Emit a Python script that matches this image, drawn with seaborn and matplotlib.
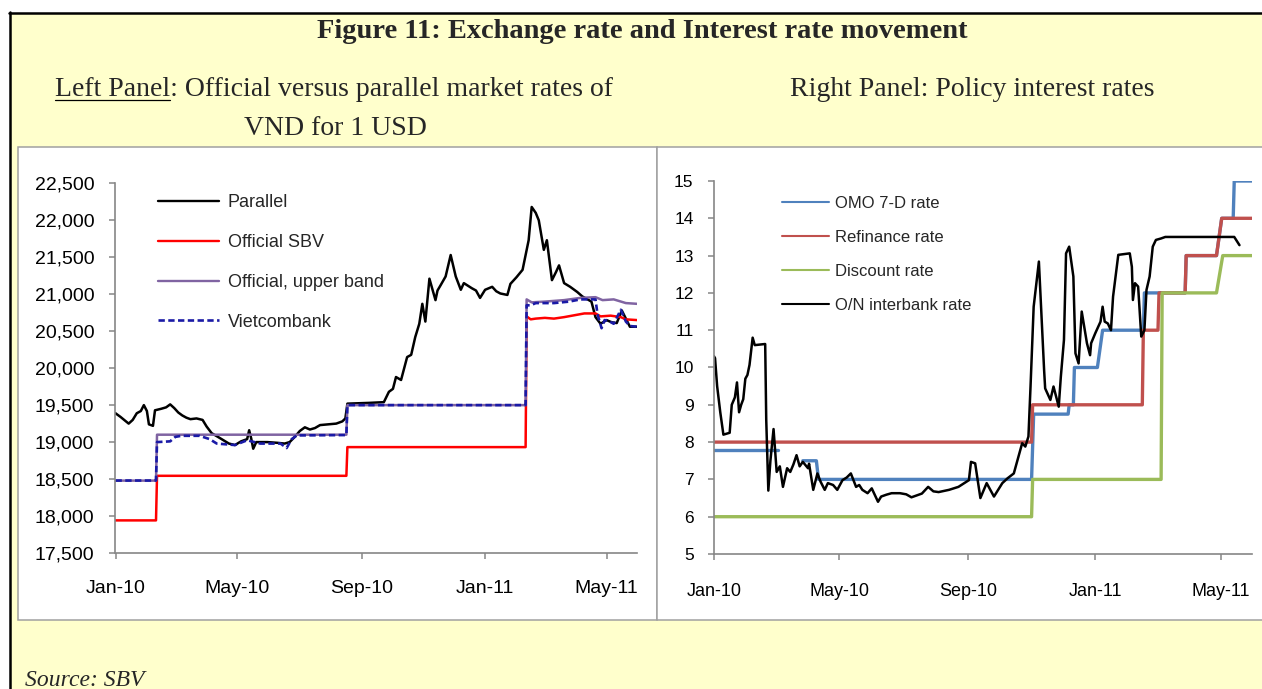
import matplotlib
matplotlib.use("Agg")
import matplotlib.pyplot as plt
import matplotlib.dates as mdates
import matplotlib.ticker as mtick
from matplotlib.lines import Line2D
from matplotlib.patches import Rectangle
import numpy as np
import pandas as pd
import seaborn as sns

sns.set_theme(style="white")
plt.rcParams["font.family"] = ["Liberation Sans", "DejaVu Sans"]

# ---- left panel: VND per USD ----
PARALLEL_DATES = [
    "2010-01-01", "2010-01-06", "2010-01-14", "2010-01-18", "2010-01-22", "2010-01-26", "2010-01-29",
    "2010-02-01", "2010-02-03", "2010-02-07", "2010-02-09", "2010-02-15", "2010-02-20", "2010-02-24",
    "2010-02-28", "2010-03-04", "2010-03-08", "2010-03-12", "2010-03-16", "2010-03-22", "2010-03-28",
    "2010-04-01", "2010-04-06", "2010-04-11", "2010-04-17", "2010-04-23", "2010-04-29", "2010-05-05",
    "2010-05-11", "2010-05-13", "2010-05-15", "2010-05-17", "2010-05-20", "2010-05-31", "2010-06-10",
    "2010-06-17", "2010-06-22", "2010-06-27", "2010-07-02", "2010-07-07", "2010-07-12", "2010-07-17",
    "2010-07-22", "2010-07-30", "2010-08-07", "2010-08-13", "2010-08-16", "2010-08-18", "2010-09-08",
    "2010-09-23", "2010-09-28", "2010-10-02", "2010-10-05", "2010-10-10", "2010-10-16", "2010-10-20",
    "2010-10-24", "2010-10-28", "2010-10-31", "2010-11-03", "2010-11-07", "2010-11-13", "2010-11-15",
    "2010-11-18", "2010-11-23", "2010-11-28", "2010-12-03", "2010-12-08", "2010-12-11", "2010-12-19",
    "2010-12-23", "2010-12-27", "2011-01-01", "2011-01-08", "2011-01-12", "2011-01-16", "2011-01-23",
    "2011-01-26", "2011-02-01", "2011-02-07", "2011-02-13", "2011-02-16", "2011-02-20", "2011-02-23",
    "2011-02-28", "2011-03-03", "2011-03-08", "2011-03-12", "2011-03-15", "2011-03-20", "2011-03-26",
    "2011-04-02", "2011-04-07", "2011-04-16", "2011-04-20", "2011-04-25", "2011-05-01", "2011-05-06",
    "2011-05-11", "2011-05-16", "2011-05-24", "2011-05-31",
]
PARALLEL = [
    19390, 19340, 19250, 19300, 19390, 19420, 19500,
    19420, 19240, 19220, 19430, 19450, 19470, 19510,
    19460, 19400, 19360, 19330, 19310, 19320, 19300,
    19210, 19120, 19080, 19030, 18980, 18960, 19010,
    19040, 19160, 19050, 18910, 19000, 19000, 18990,
    18980, 19000, 19070, 19150, 19200, 19170, 19190,
    19230, 19240, 19250, 19280, 19320, 19520, 19530,
    19540, 19680, 19720, 19880, 19840, 20150, 20180,
    20420, 20600, 20870, 20630, 21210, 20920, 21050,
    21120, 21240, 21530, 21240, 21060, 21150, 21080,
    21050, 20950, 21060, 21100, 21040, 21010, 20990,
    21140, 21230, 21330, 21730, 22180, 22100, 22000,
    21600, 21730, 21190, 21300, 21390, 21150, 21100,
    21030, 20970, 20900, 20690, 20600, 20650, 20620,
    20610, 20780, 20560, 20560,
]

SBV_DATES = [
    "2010-01-01", "2010-02-10", "2010-02-11", "2010-08-17", "2010-08-18", "2011-02-10", "2011-02-11",
    "2011-02-15", "2011-02-20", "2011-03-01", "2011-03-10", "2011-03-20", "2011-04-01", "2011-04-09",
    "2011-04-20", "2011-04-25", "2011-05-05", "2011-05-15", "2011-05-20", "2011-05-31",
]
SBV = [
    17941, 17941, 18544, 18544, 18932, 18932, 20700,
    20660, 20670, 20680, 20670, 20690, 20720, 20740,
    20740, 20700, 20710, 20690, 20660, 20650,
]

BAND_DATES = [
    "2010-01-01", "2010-02-10", "2010-02-11", "2010-08-17", "2010-08-18", "2011-02-10", "2011-02-11",
    "2011-02-16", "2011-03-01", "2011-03-20", "2011-04-05", "2011-04-20", "2011-04-27", "2011-05-08",
    "2011-05-20", "2011-05-31",
]
BAND = [
    18479, 18479, 19100, 19100, 19500, 19500, 20930,
    20890, 20900, 20920, 20950, 20960, 20920, 20930,
    20880, 20870,
]

VCB_DATES = [
    "2010-01-01", "2010-02-10", "2010-02-11", "2010-02-24", "2010-03-01", "2010-03-07", "2010-03-25",
    "2010-04-04", "2010-04-11", "2010-04-29", "2010-05-11", "2010-05-24", "2010-06-13", "2010-06-19",
    "2010-06-24", "2010-06-29", "2010-08-17", "2010-08-18", "2011-02-10", "2011-02-11", "2011-02-15",
    "2011-02-20", "2011-03-10", "2011-03-25", "2011-04-05", "2011-04-20", "2011-04-22", "2011-04-26",
    "2011-04-29", "2011-05-03", "2011-05-08", "2011-05-15", "2011-05-20", "2011-05-24", "2011-05-31",
]
VCB = [
    18480, 18480, 19000, 19010, 19070, 19085, 19085,
    19040, 18980, 18960, 19025, 18980, 18980, 18920,
    19040, 19090, 19095, 19500, 19500, 20850, 20850,
    20880, 20880, 20900, 20930, 20930, 20730, 20540,
    20650, 20640, 20600, 20790, 20630, 20570, 20560,
]

# ---- right panel: policy interest rates (%) ----
OMO_DATES = [
    "2010-01-01", "2010-03-03", None,
    "2010-03-27", "2010-04-09", "2010-04-11", "2010-11-01", "2010-11-03", "2010-12-06", "2010-12-07",
    "2010-12-11", "2010-12-12", "2011-01-03", "2011-01-08", "2011-02-16", "2011-02-17", "2011-03-28",
    "2011-03-29", "2011-04-27", "2011-05-02", "2011-05-13", "2011-05-14", "2011-05-31",
]
OMO = [
    7.8, 7.8, None,
    7.5, 7.5, 7.0, 7.0, 8.75, 8.75, 9.0,
    9.0, 10.0, 10.0, 11.0, 11.0, 12.0, 12.0,
    13.0, 13.0, 14.0, 14.0, 15.0, 15.0,
]

REFI_DATES = [
    "2010-01-01", "2010-11-01", "2010-11-02", "2011-02-15", "2011-02-16", "2011-03-02", "2011-03-03",
    "2011-03-28", "2011-03-29", "2011-04-27", "2011-05-02", "2011-05-31",
]
REFI = [8, 8, 9, 9, 11, 11, 12, 12, 13, 13, 14, 14]

DISC_DATES = [
    "2010-01-01", "2010-11-01", "2010-11-02", "2011-03-05", "2011-03-06", "2011-04-27", "2011-05-03",
    "2011-05-31",
]
DISC = [6, 6, 7, 7, 12, 12, 13, 13]

ON_DATES = [
    "2010-01-01", "2010-01-02", "2010-01-04", "2010-01-07", "2010-01-10", "2010-01-16", "2010-01-18",
    "2010-01-21", "2010-01-23", "2010-01-25", "2010-01-27", "2010-01-29", "2010-01-31", "2010-02-02",
    "2010-02-04", "2010-02-07", "2010-02-09", "2010-02-19", "2010-02-20", "2010-02-22", "2010-02-24",
    "2010-02-27", "2010-03-02", "2010-03-05", "2010-03-08", "2010-03-12", "2010-03-15", "2010-03-18",
    "2010-03-21", "2010-03-24", "2010-03-27", "2010-04-01", "2010-04-02", "2010-04-06", "2010-04-10",
    "2010-04-13", "2010-04-17", "2010-04-20", "2010-04-25", "2010-04-29", "2010-05-04", "2010-05-08",
    "2010-05-12", "2010-05-17", "2010-05-20", "2010-05-23", "2010-05-28", "2010-06-01", "2010-06-07",
    "2010-06-10", "2010-06-15", "2010-06-20", "2010-06-28", "2010-07-04", "2010-07-09", "2010-07-15",
    "2010-07-19", "2010-07-25", "2010-07-30", "2010-08-04", "2010-08-14", "2010-08-23", "2010-09-02",
    "2010-09-04", "2010-09-08", "2010-09-13", "2010-09-19", "2010-09-26", "2010-10-04", "2010-10-09",
    "2010-10-15", "2010-10-23", "2010-10-26", "2010-10-29", "2010-10-31", "2010-11-03", "2010-11-08",
    "2010-11-13", "2010-11-14", "2010-11-19", "2010-11-22", "2010-11-27", "2010-11-29", "2010-12-02",
    "2010-12-04", "2010-12-07", "2010-12-11", "2010-12-13", "2010-12-16", "2010-12-19", "2010-12-24",
    "2010-12-27", "2010-12-28", "2011-01-01", "2011-01-06", "2011-01-08", "2011-01-10", "2011-01-13",
    "2011-01-16", "2011-01-18", "2011-01-23", "2011-02-03", "2011-02-05", "2011-02-06", "2011-02-08",
    "2011-02-11", "2011-02-14", "2011-02-17", "2011-02-19", "2011-02-22", "2011-02-25", "2011-02-28",
    "2011-03-05", "2011-03-09", "2011-05-14", "2011-05-19",
]
ON_RATE = [
    10.3, 10.25, 9.5, 8.8, 8.2, 8.25, 9.0,
    9.2, 9.6, 8.8, 9.0, 9.15, 9.7, 9.8,
    10.07, 10.8, 10.6, 10.63, 8.6, 6.7, 7.5,
    8.35, 7.2, 7.35, 6.8, 7.3, 7.2, 7.4,
    7.65, 7.35, 7.47, 7.3, 7.42, 6.72, 7.16,
    6.94, 6.72, 6.9, 6.85, 6.72, 6.98, 7.05,
    7.16, 6.8, 6.85, 6.72, 6.63, 6.76, 6.4,
    6.54, 6.59, 6.63, 6.63, 6.6, 6.52, 6.58,
    6.62, 6.8, 6.68, 6.66, 6.72, 6.8, 6.98,
    7.47, 7.43, 6.5, 6.9, 6.54, 6.9, 7.03,
    7.16, 7.97, 7.88, 8.15, 9.49, 11.63, 12.84,
    9.93, 9.44, 9.13, 9.49, 8.95, 9.75, 10.74,
    13.06, 13.24, 12.44, 10.38, 10.11, 11.5, 10.65,
    10.33, 10.65, 10.92, 11.23, 11.63, 11.23, 11.18,
    11.0, 11.9, 13.02, 13.06, 12.7, 11.81, 12.26,
    12.17, 10.83, 11.0, 12.08, 12.44, 13.24, 13.42,
    13.46, 13.5, 13.5, 13.28,
]

LEFT_LABELS = ["Parallel", "Official SBV", "Official, upper band", "Vietcombank"]
RIGHT_LABELS = ["OMO 7-D rate", "Refinance rate", "Discount rate", "O/N interbank rate"]
YEAR_TICKS_LEFT = list(range(17500, 22501, 500))
YEAR_TICKS_RIGHT = list(range(5, 16))

W, H = 1262, 689
AXIS_GREY = "#868686"
SERIF = ["Liberation Serif", "DejaVu Serif"]


def fx(x):
    return x / W


def fy(y):
    return 1 - y / H


def draw_series(ax, dates, values, **kws):
    # split on None so gaps stay gaps
    seg_d, seg_v = [], []
    for d, v in list(zip(dates, values)) + [(None, None)]:
        if d is None:
            if seg_d:
                sns.lineplot(x=pd.to_datetime(seg_d), y=seg_v, ax=ax, estimator=None, sort=False,
                             legend=False, **kws)
            seg_d, seg_v = [], []
        else:
            seg_d.append(d)
            seg_v.append(v)


def style_axis(ax, ylab, xlab, ypad, xpad):
    ax.set_facecolor("none")
    for s in ["top", "right"]:
        ax.spines[s].set_visible(False)
    for s in ["left", "bottom"]:
        ax.spines[s].set_color(AXIS_GREY)
        ax.spines[s].set_linewidth(1.2)
    ax.set_xlim(pd.Timestamp("2010-01-01"), pd.Timestamp("2011-05-31"))
    ax.xaxis.set_major_locator(mdates.MonthLocator(bymonth=[1, 5, 9]))
    ax.xaxis.set_major_formatter(mdates.DateFormatter("%b-%y"))
    ax.tick_params(axis="both", direction="out", color=AXIS_GREY, width=1.1, length=4.2,
                   bottom=True, left=True, labelcolor="black")
    ax.tick_params(axis="y", labelsize=ylab, pad=ypad)
    ax.tick_params(axis="x", labelsize=xlab, pad=xpad)
    ax.set_xlabel("")
    ax.set_ylabel("")
    ax.grid(False)


fig = plt.figure(figsize=(W / 100, H / 100), dpi=100)
fig.patch.set_facecolor("white")

# page background, border and white panel boxes
fig.add_artist(Rectangle((fx(10), 0), 1, fy(13), transform=fig.transFigure,
                         facecolor="#FFFFCC", edgecolor="none", zorder=-10))
fig.add_artist(Line2D([fx(10), fx(10)], [0, fy(12)], transform=fig.transFigure,
                      color="black", lw=1.8, zorder=-5))
fig.add_artist(Line2D([fx(9), 1], [fy(13), fy(13)], transform=fig.transFigure,
                      color="black", lw=1.8, zorder=-5))
fig.add_artist(Rectangle((fx(18), fy(620)), fx(657) - fx(18), fy(147) - fy(620), transform=fig.transFigure,
                         facecolor="white", edgecolor="#A0A0A0", lw=1.1, zorder=-4))
fig.add_artist(Rectangle((fx(657), fy(620)), fx(1275) - fx(657), fy(147) - fy(620), transform=fig.transFigure,
                         facecolor="white", edgecolor="#A0A0A0", lw=1.1, zorder=-4))

# ---- left axes ----
axL = fig.add_axes([fx(115.5), fy(553), fx(637) - fx(115.5), fy(183.3) - fy(553)])
draw_series(axL, PARALLEL_DATES, PARALLEL, color="black", linewidth=1.8)
draw_series(axL, SBV_DATES, SBV, color="#FF0000", linewidth=1.8)
draw_series(axL, BAND_DATES, BAND, color="#8064A2", linewidth=1.8)
draw_series(axL, VCB_DATES, VCB, color="#1A1AA6", linewidth=1.9, linestyle=(0, (2.4, 1.3)))
axL.set_ylim(17500, 22500)
axL.set_yticks(YEAR_TICKS_LEFT)
axL.yaxis.set_major_formatter(mtick.StrMethodFormatter("{x:,.0f}"))
style_axis(axL, 14, 14, 11, 15)

left_handles = [
    Line2D([], [], color="black", lw=1.7),
    Line2D([], [], color="#FF0000", lw=1.7),
    Line2D([], [], color="#8064A2", lw=1.7),
    Line2D([], [], color="#1A1AA6", lw=1.9, linestyle=(0, (2.4, 1.3))),
]
axL.legend(left_handles, LEFT_LABELS, loc="upper left", bbox_to_anchor=(fx(158), fy(194)),
           bbox_transform=fig.transFigure, frameon=False, fontsize=13, borderpad=0, borderaxespad=0,
           handlelength=3.4, handletextpad=0.45, labelspacing=1.27)

# ---- right axes ----
axR = fig.add_axes([fx(714), fy(554), fx(1252) - fx(714), fy(181) - fy(554)])
draw_series(axR, OMO_DATES, OMO, color="#4F81BD", linewidth=2.4)
draw_series(axR, REFI_DATES, REFI, color="#C0504D", linewidth=2.4)
draw_series(axR, DISC_DATES, DISC, color="#9BBB59", linewidth=2.4)
draw_series(axR, ON_DATES, ON_RATE, color="black", linewidth=1.8)
axR.set_ylim(5, 15)
axR.set_yticks(YEAR_TICKS_RIGHT)
style_axis(axR, 12.5, 13, 10.5, 17)

right_handles = [
    Line2D([], [], color="#4F81BD", lw=1.5),
    Line2D([], [], color="#C0504D", lw=1.5),
    Line2D([], [], color="#9BBB59", lw=1.5),
    Line2D([], [], color="black", lw=1.5),
]
axR.legend(right_handles, RIGHT_LABELS, loc="upper left", bbox_to_anchor=(fx(782), fy(196)),
           bbox_transform=fig.transFigure, frameon=False, fontsize=12, borderpad=0, borderaxespad=0,
           handlelength=2.8, handletextpad=0.4, labelspacing=1.14)

# ---- text ----
fig.text(fx(642), fy(38), "Figure 11: Exchange rate and Interest rate movement", ha="center",
         va="baseline", fontsize=20.5, fontweight="bold", family=SERIF)
sub = fig.text(fx(334), fy(96), "Left Panel: Official versus parallel market rates of", ha="center",
               va="baseline", fontsize=20, family=SERIF)
fig.text(fx(335), fy(135), "VND for 1 USD", ha="center", va="baseline", fontsize=20, family=SERIF)
fig.text(fx(972), fy(96), "Right Panel: Policy interest rates", ha="center", va="baseline",
         fontsize=20, family=SERIF)
fig.text(fx(25), fy(686), "Source: SBV", ha="left", va="baseline", fontsize=17, style="italic",
         family=SERIF)

# underline "Left Panel"
fig.canvas.draw()
renderer = fig.canvas.get_renderer()
bb = sub.get_window_extent(renderer)
tmp = fig.text(bb.x0 / fig.bbox.width, fy(96), "Left Panel", ha="left", va="baseline", fontsize=20,
               family=SERIF)
wb = tmp.get_window_extent(renderer)
tmp.remove()
fig.add_artist(Line2D([bb.x0 / fig.bbox.width, wb.x1 / fig.bbox.width], [fy(99.5), fy(99.5)],
                      transform=fig.transFigure, color="black", lw=0.9))

fig.savefig("out.png", dpi=100)
